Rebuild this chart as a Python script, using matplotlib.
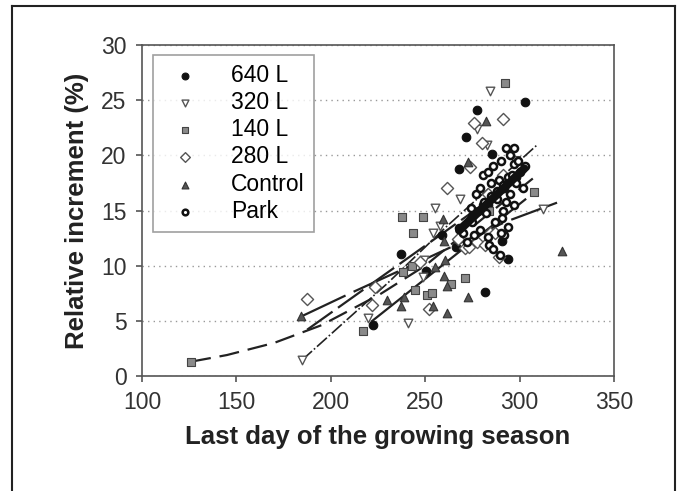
import numpy as np
import matplotlib.pyplot as plt
from matplotlib.lines import Line2D

plt.rcParams['font.family'] = ['Liberation Sans', 'DejaVu Sans']

# Messpunkte je Gruppe (x = letzter Tag der Vegetationsperiode, y = relativer Zuwachs %)
x640 = [302.8, 277.6, 271.6, 285.4, 268.0, 237.2, 250.4, 258.9, 290.7, 293.9, 281.6, 222.4,
        275.0, 283.0, 292.0, 298.0, 266.3]
y640 = [24.8, 24.1, 21.7, 20.1, 18.8, 11.1, 9.5, 12.8, 12.2, 10.6, 7.6, 4.6,
        14.5, 15.5, 17.0, 18.0, 11.7]

x320 = [184.8, 219.9, 240.9, 248.8, 249.5, 254.2, 255.2, 257.9, 268.5, 282.7, 277.5, 284.3,
        312.3, 272.0]
y320 = [1.45, 5.3, 4.8, 9.0, 10.5, 13.0, 15.2, 13.6, 16.0, 20.9, 22.4, 25.8,
        15.1, 11.8]

x140 = [126.0, 217.2, 237.8, 249.0, 243.6, 238.3, 243.0, 244.6, 250.8, 253.4, 263.7, 271.0,
        292.3, 307.6, 298.0, 284.0]
y140 = [1.3, 4.1, 14.4, 14.4, 13.0, 9.4, 10.0, 7.8, 7.3, 7.5, 8.3, 8.9,
        26.6, 16.7, 19.6, 15.0]

x280 = [187.5, 221.9, 223.5, 247.0, 251.8, 261.3, 267.4, 271.0, 273.0, 277.4, 281.6, 284.3,
        287.0, 289.0, 273.8, 275.9, 280.2, 291.3, 291.0, 283.0]
y280 = [7.0, 6.4, 8.1, 10.3, 6.1, 17.0, 12.4, 11.6, 11.7, 12.1, 11.9, 13.0,
        13.0, 10.8, 18.9, 22.9, 21.1, 23.3, 18.2, 16.5]

xctl = [184.4, 229.7, 238.9, 237.2, 254.2, 255.2, 259.4, 260.0, 260.5, 260.0, 261.3, 261.4,
        272.8, 272.8, 282.2, 322.5]
yctl = [5.4, 6.9, 7.2, 6.3, 6.3, 9.9, 14.2, 12.2, 10.5, 9.1, 8.2, 5.7,
        7.2, 19.4, 23.1, 11.3]

xpark = [292.8, 296.9, 280.6, 286.0, 290.0, 295.0, 297.0, 301.8, 293.0, 291.0, 290.6, 280.5,
         279.0, 283.0, 284.0, 289.5, 272.0, 270.0, 275.0, 277.0, 285.0, 288.0, 294.0, 298.0,
         300.0, 276.0, 282.0, 287.0, 292.0, 299.0, 303.0, 268.0, 274.0, 279.0, 283.0, 289.0,
         295.0, 297.0, 290.0, 286.0, 294.0, 278.0, 281.0, 285.0, 288.0, 291.0, 296.0]
ypark = [20.7, 20.7, 18.2, 19.0, 19.5, 20.0, 19.2, 17.0, 15.8, 15.0, 14.3, 15.5,
         13.2, 12.6, 11.9, 11.0, 12.1, 13.0, 14.0, 16.5, 17.5, 16.0, 18.0, 17.5,
         18.5, 12.8, 14.8, 14.0, 12.8, 19.5, 19.0, 13.4, 15.2, 17.0, 18.5, 17.8,
         16.5, 15.5, 13.0, 11.5, 13.5, 15.0, 15.8, 16.3, 16.8, 17.3, 18.2]

fit140_x = [126, 145, 170, 195, 226, 250, 280, 307]
fit140_y = [1.3, 1.9, 3.0, 4.6, 7.4, 10.0, 14.2, 17.9]
fitctl_x = [184.4, 211.6, 250, 293, 322.8]
fitctl_y = [5.4, 7.6, 10.6, 14.0, 15.9]
fit320_x = [184.8, 230, 261, 309]
fit320_y = [1.45, 8.4, 13.5, 20.9]
fit640_x = [222, 303]
fit640_y = [5.0, 16.0]
fit280_x = [187.5, 291]
fit280_y = [4.2, 16.8]
fitpark_x = [268, 302.5]
fitpark_y = [13.2, 18.8]

fig = plt.figure(figsize=(6.77, 4.91), dpi=100)
ax = fig.add_axes([142 / 677, 1 - 376 / 491, 472 / 677, 331 / 491])

ax.plot(fit140_x, fit140_y, color='#222', lw=1.6, dashes=(9, 4), zorder=3)
ax.plot(fitctl_x, fitctl_y, color='#222', lw=1.6, dashes=(22, 4), zorder=3)
ax.plot(fit320_x, fit320_y, color='#222', lw=1.2, dashes=(8, 1.5, 1, 1.5), zorder=3)
ax.plot(fit640_x, fit640_y, color='#222', lw=1.6, zorder=3)
ax.plot(fit280_x, fit280_y, color='#222', lw=1.6, dashes=(14, 3), zorder=3)

s = 38
ax.scatter(x640, y640, s=s, marker='o', c='#111', edgecolors='#111', lw=0.8, zorder=4, label='640 L')
ax.scatter(x320, y320, s=s, marker='v', c='white', edgecolors='#555', lw=1.0, zorder=4, label='320 L')
ax.scatter(x140, y140, s=s, marker='s', c='#8a8a8a', edgecolors='#444', lw=0.8, zorder=4, label='140 L')
ax.scatter(x280, y280, s=s, marker='D', c='white', edgecolors='#555', lw=1.0, zorder=4, label='280 L')
ax.scatter(xctl, yctl, s=s, marker='^', c='#555', edgecolors='#333', lw=0.8, zorder=4, label='Control')
ax.scatter(xpark, ypark, s=26, marker='o', c='white', edgecolors='#111', lw=1.8, zorder=5, label='Park')
ax.plot(fitpark_x, fitpark_y, color='#111', lw=6, solid_capstyle='round', zorder=6)

ax.set_xlim(100, 350)
ax.set_ylim(0, 30)
ax.set_xticks([100, 150, 200, 250, 300, 350])
ax.set_yticks([0, 5, 10, 15, 20, 25, 30])
ax.yaxis.grid(True, color='#999', ls=(0, (1, 3)), lw=1.0)
ax.set_axisbelow(True)
for sp in ax.spines.values():
    sp.set_color('#555')
    sp.set_linewidth(1.2)
ax.tick_params(direction='out', length=4, width=1.2, color='#555', labelsize=16.5,
               labelcolor='#333', pad=7)

ax.set_xlabel('Last day of the growing season', fontsize=18.5, fontweight='bold', color='#222',
              labelpad=8)
ax.set_ylabel('Relative increment (%)', fontsize=18.5, fontweight='bold', color='#222',
              labelpad=9)

leg = ax.legend(loc='upper left', bbox_to_anchor=(0.023, 0.97), fontsize=16.5, frameon=True,
                fancybox=False, edgecolor='#888', borderpad=0.4, labelspacing=0.18,
                handletextpad=1.0, markerscale=0.8, borderaxespad=0)
leg.get_frame().set_linewidth(1.2)

# Rahmen um die ganze Abbildung
for xs, ys in [([12 / 677, 12 / 677], [0, 1 - 6 / 491]),
               ([12 / 677, 675 / 677], [1 - 6 / 491, 1 - 6 / 491]),
               ([675 / 677, 675 / 677], [0, 1 - 6 / 491])]:
    fig.add_artist(Line2D(xs, ys, transform=fig.transFigure, color='#222', lw=1.5))

fig.savefig('out.png', dpi=100)
